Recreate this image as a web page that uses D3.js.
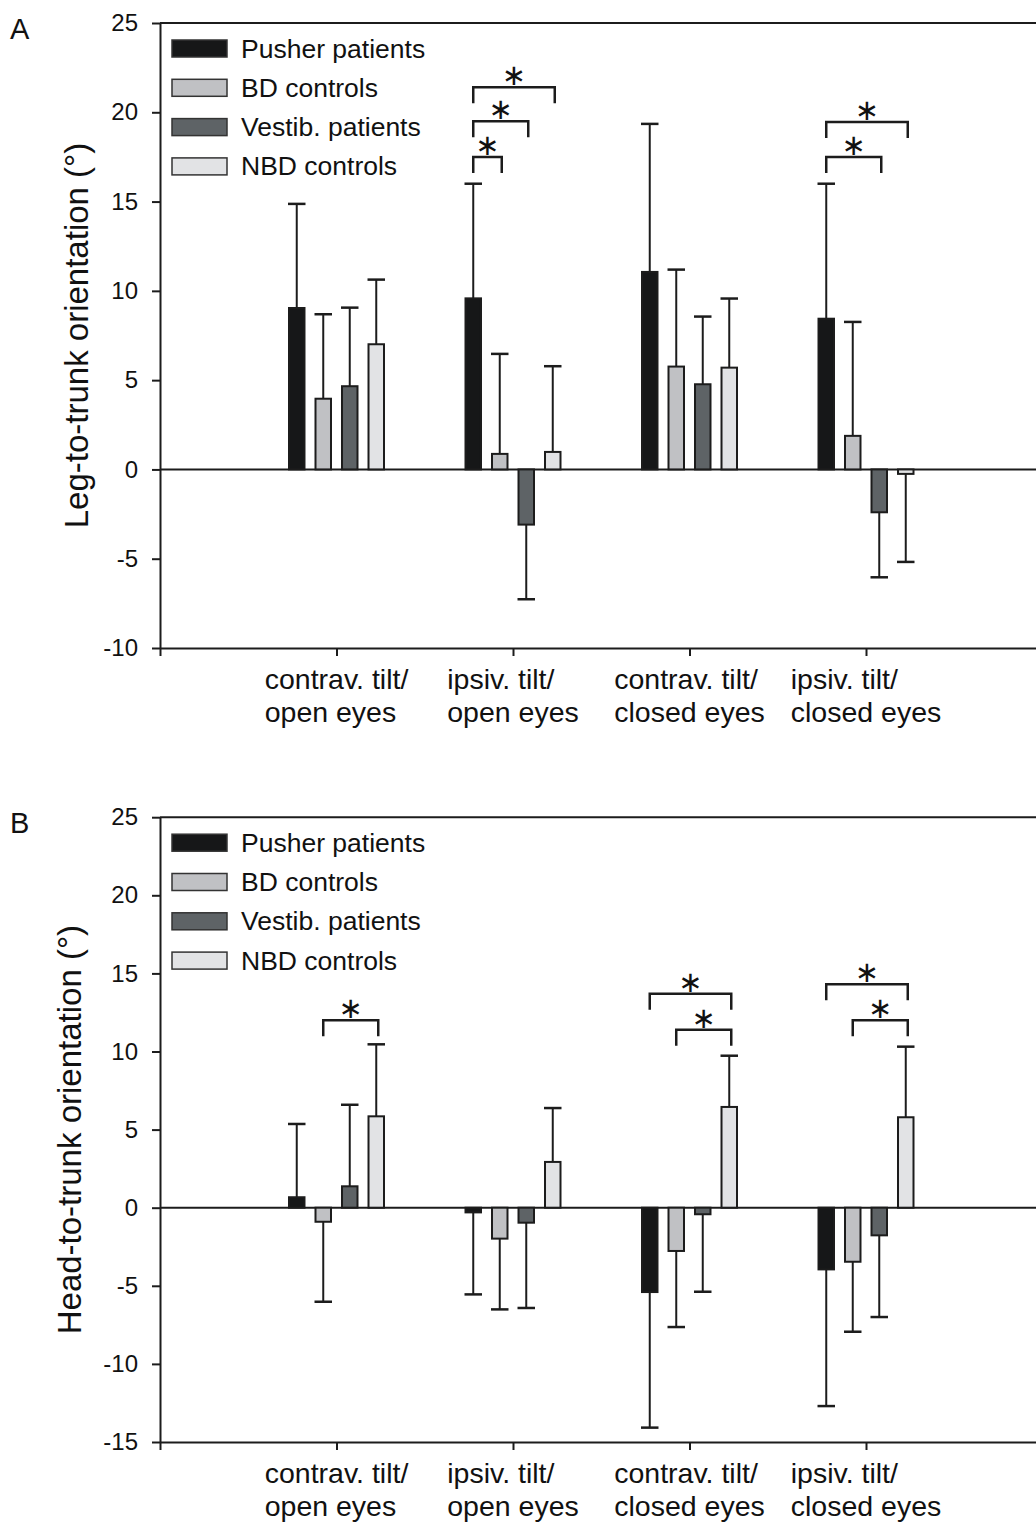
<!DOCTYPE html>
<html>
<head>
<meta charset="utf-8">
<script src="https://cdn.jsdelivr.net/npm/d3@7"></script>
<style>
  body { margin: 0; background: #fff; }
  svg { display: block; font-family: "Liberation Sans", Arial, sans-serif; }
</style>
</head>
<body>
<svg id="chart"></svg>
<script>
// categories (two-line labels) and groups
var categories = [["contrav. tilt/", "open eyes"], ["ipsiv. tilt/", "open eyes"],
                  ["contrav. tilt/", "closed eyes"], ["ipsiv. tilt/", "closed eyes"]];
var series = ["Pusher patients", "BD controls", "Vestib. patients", "NBD controls"];
var colors = ["#161718", "#c0c1c4", "#5e6366", "#e2e3e5"];

// A: leg-to-trunk orientation, mean and SD per category (rows) and group (cols)
var legMean = [[9.04, 3.96, 4.66, 7.01],
               [9.58, 0.87, -3.09, 0.98],
               [11.06, 5.76, 4.77, 5.70],
               [8.44, 1.88, -2.40, -0.25]];
var legSD   = [[5.83, 4.73, 4.40, 3.62],
               [6.42, 5.60, 4.18, 4.80],
               [8.29, 5.43, 3.79, 3.87],
               [7.56, 6.38, 3.64, 4.93]];

// B: head-to-trunk orientation
var headMean = [[0.67, -0.90, 1.37, 5.85],
                [-0.30, -1.98, -0.96, 2.93],
                [-5.40, -2.77, -0.42, 6.45],
                [-3.95, -3.46, -1.77, 5.79]];
var headSD   = [[4.69, 5.12, 5.22, 4.61],
                [5.25, 4.53, 5.46, 3.45],
                [8.68, 4.87, 4.96, 3.28],
                [8.75, 4.48, 5.23, 4.52]];

var legTicks  = [-10, -5, 0, 5, 10, 15, 20, 25];
var headTicks = [-15, -10, -5, 0, 5, 10, 15, 20, 25];

// significance: [category, from group, to group, bracket height (deg)]
var legSig  = [[1, 0, 1, 17.5], [1, 0, 2, 19.5], [1, 0, 3, 21.4],
               [3, 0, 2, 17.5], [3, 0, 3, 19.45]];
var headSig = [[0, 1, 3, 12.0], [2, 0, 3, 13.7], [2, 1, 3, 11.4],
               [3, 0, 3, 14.3], [3, 1, 3, 12.0]];

var W = 1036, H = 1523;
var ink = "#1c1c1c";
var svg = d3.select("#chart").attr("width", W).attr("height", H);

var x = d3.scaleLinear().domain([0, 5]).range([160, 1042.5]);
var inner = d3.scaleBand().domain(d3.range(series.length)).range([-48.5, 48.5]).paddingInner(0.34);
var bw = inner.bandwidth();

function drawPanel(o) {
  var y = d3.scaleLinear().domain([o.ticks[0], o.ticks[o.ticks.length - 1]]).range([o.bottom, o.top]);
  var g = svg.append("g");
  var yTop = y(o.ticks[o.ticks.length - 1]);

  // top frame and zero line
  g.append("line").attr("x1", x(0)).attr("x2", x(5)).attr("y1", yTop).attr("y2", yTop)
    .attr("stroke", ink).attr("stroke-width", 2);
  g.append("line").attr("x1", x(0)).attr("x2", x(5)).attr("y1", y(0)).attr("y2", y(0))
    .attr("stroke", ink).attr("stroke-width", 2);

  // y axis
  var ya = g.append("g").attr("transform", "translate(" + x(0) + ",0)")
    .call(d3.axisLeft(y).tickValues(o.ticks).tickSize(8).tickPadding(14).tickSizeOuter(0)
      .tickFormat(function(d) { return String(d); }));
  // x axis
  var xa = g.append("g").attr("transform", "translate(0," + o.bottom + ")")
    .call(d3.axisBottom(x).tickValues([0, 1, 2, 3, 4]).tickSize(8).tickFormat("").tickSizeOuter(0));
  [ya, xa].forEach(function(a) {
    a.select(".domain").attr("stroke", ink).attr("stroke-width", 2);
    a.selectAll(".tick line").attr("stroke", ink).attr("stroke-width", 2);
    a.selectAll("text").attr("fill", "#111").style("font-size", "24px").style("font-family", "Liberation Sans, Arial, sans-serif");
  });

  // category labels: left-aligned two-line block, centred on the tick
  g.selectAll(".cat").data(categories).enter().append("text")
    .attr("fill", "#111").style("font-size", "28.5px")
    .attr("transform", function(d, i) { return "translate(" + x(i + 1) + "," + (o.bottom + 41) + ")"; })
    .each(function(d) {
      var t = d3.select(this);
      d.forEach(function(s, j) { t.append("tspan").attr("x", 0).attr("y", j * 33).text(s); });
      var wmax = 0;
      t.selectAll("tspan").each(function() { wmax = Math.max(wmax, this.getComputedTextLength()); });
      t.selectAll("tspan").attr("x", -wmax / 2);
    });

  // bars
  var groups = g.selectAll(".grp").data(o.mean).enter().append("g")
    .attr("transform", function(d, i) { return "translate(" + x(i + 1) + ",0)"; });

  // error bars
  groups.each(function(row, ci) {
    var gg = d3.select(this);
    row.forEach(function(v, si) {
      var sd = o.sd[ci][si];
      var end = v >= 0 ? v + sd : v - sd;
      var cx = inner(si) + bw / 2;
      gg.append("line").attr("x1", cx).attr("x2", cx).attr("y1", y(v)).attr("y2", y(end))
        .attr("stroke", ink).attr("stroke-width", 2);
      gg.append("line").attr("x1", inner(si)).attr("x2", inner(si) + bw).attr("y1", y(end)).attr("y2", y(end))
        .attr("stroke", ink).attr("stroke-width", 2.5);
    });
  });

  groups.selectAll("rect").data(function(d) { return d; }).enter().append("rect")
    .attr("x", function(d, i) { return inner(i) + 1; })
    .attr("width", bw - 2)
    .attr("y", function(d) { return y(Math.max(0, d)); })
    .attr("height", function(d) { return Math.abs(y(d) - y(0)); })
    .attr("fill", function(d, i) { return colors[i]; })
    .attr("stroke", ink).attr("stroke-width", 2);

  // significance brackets
  o.sig.forEach(function(s) {
    var x1 = x(s[0] + 1) + inner(s[1]) + bw / 2;
    var x2 = x(s[0] + 1) + inner(s[2]) + bw / 2 + 2;
    var yy = y(s[3]);
    g.append("path").attr("d", d3.line()([[x1, yy + 16], [x1, yy], [x2, yy], [x2, yy + 16]]))
      .attr("fill", "none").attr("stroke", ink).attr("stroke-width", 2.5);
    g.append("text").attr("x", (x1 + x2) / 2).attr("y", yy - 12)
      .attr("text-anchor", "middle").attr("dominant-baseline", "central")
      .attr("fill", "#111").style("font-family", "DejaVu Sans, sans-serif").style("font-size", "29px").text("∗");
  });

  // legend
  var lg = g.selectAll(".leg").data(series).enter().append("g")
    .attr("transform", function(d, i) { return "translate(171," + (o.top + 16 + i * 39.3) + ")"; });
  lg.append("rect").attr("x", 1).attr("y", 1).attr("width", 55).attr("height", 17)
    .attr("fill", function(d, i) { return colors[i]; }).attr("stroke", "#333").attr("stroke-width", 1.5);
  lg.append("text").attr("x", 70).attr("y", 18.5).attr("fill", "#111").style("font-size", "26.5px")
    .text(function(d) { return d; });

  // y label and panel letter
  g.append("text").attr("transform", "translate(" + o.labelX + "," + ((o.top + o.bottom) / 2) + ") rotate(-90)")
    .attr("text-anchor", "middle").attr("fill", "#111").style("font-size", "33px").text(o.label);
  g.append("text").attr("x", 10).attr("y", o.top + 16).attr("fill", "#111").style("font-size", "29px").text(o.letter);
}

drawPanel({ top: 23, bottom: 648, ticks: legTicks, mean: legMean, sd: legSD, sig: legSig,
            label: "Leg-to-trunk orientation (°)", labelX: 88, letter: "A" });
drawPanel({ top: 817.2, bottom: 1442, ticks: headTicks, mean: headMean, sd: headSD, sig: headSig,
            label: "Head-to-trunk orientation (°)", labelX: 81, letter: "B" });
</script>
</body>
</html>
